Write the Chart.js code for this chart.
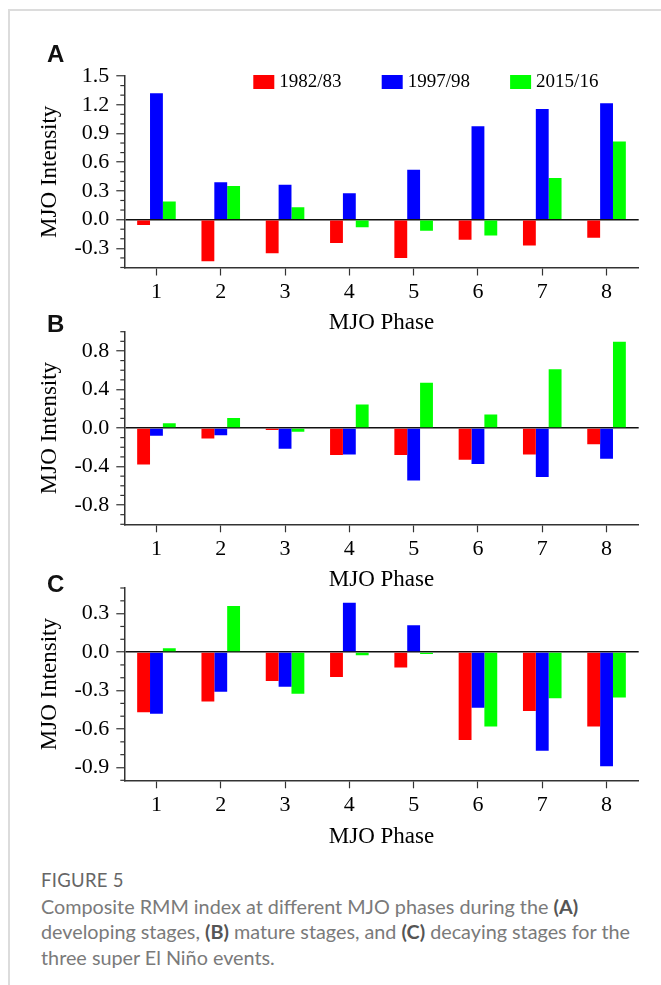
<!DOCTYPE html>
<html>
<head>
<meta charset="utf-8">
<script src="https://cdn.jsdelivr.net/npm/chart.js@4.4.1/dist/chart.umd.min.js"></script>
<style>
  body { margin: 0; background: #fff; }
  #page { position: relative; width: 661px; height: 985px; overflow: hidden; background: #fff; }
  .frame { position: absolute; left: 8px; top: 9px; width: 720px; height: 1000px;
           border-top: 2px solid #dcdcdc; border-left: 2px solid #dcdcdc; }
  canvas { position: absolute; left: 0; }
  .tag { position: absolute; left: 47px; font: bold 24px "Liberation Sans", Arial, sans-serif;
         line-height: 24px; color: #111; }
  .caption { position: absolute; left: 41px; top: 868px; font-family: Lato, "Open Sans", sans-serif;
             color: #7a7a7a; font-size: 19.8px; line-height: 25.6px; white-space: nowrap; }
  .caption .fig { color: #666; font-size: 18.5px; letter-spacing: 0.3px; }
  .caption b { color: #555; font-weight: 700; }
</style>
</head>
<body>
<div id="page">
  <div class="frame"></div>
  <canvas id="chartA" width="661" height="300" style="top:40px"></canvas>
  <canvas id="chartB" width="661" height="300" style="top:300px"></canvas>
  <canvas id="chartC" width="661" height="300" style="top:560px"></canvas>
  <div class="tag" style="top:42px">A</div>
  <div class="tag" style="top:312px">B</div>
  <div class="tag" style="top:572px">C</div>
  <div class="caption">
    <div class="fig">FIGURE 5</div>
    Composite RMM index at different MJO phases during the <b>(A)</b><br>
    developing stages, <b>(B)</b> mature stages, and <b>(C)</b> decaying stages for the<br>
    three super El Niño events.
  </div>
</div>
<script>
// categories and series
const phases = ['1', '2', '3', '4', '5', '6', '7', '8'];
const events = ['1982/83', '1997/98', '2015/16'];

// (A) developing stages
const devel1982 = [-0.055, -0.435, -0.35, -0.245, -0.40, -0.21, -0.27, -0.19];
const devel1997 = [1.32, 0.39, 0.365, 0.275, 0.52, 0.975, 1.155, 1.215];
const devel2015 = [0.19, 0.35, 0.13, -0.08, -0.115, -0.165, 0.435, 0.815];

// (B) mature stages
const mature1982 = [-0.38, -0.11, -0.02, -0.28, -0.28, -0.33, -0.275, -0.17];
const mature1997 = [-0.08, -0.075, -0.215, -0.275, -0.545, -0.375, -0.51, -0.32];
const mature2015 = [0.05, 0.105, -0.04, 0.245, 0.47, 0.14, 0.61, 0.895];

// (C) decaying stages
const decay1982 = [-0.47, -0.385, -0.225, -0.195, -0.12, -0.685, -0.46, -0.58];
const decay1997 = [-0.48, -0.31, -0.27, 0.385, 0.21, -0.435, -0.77, -0.89];
const decay2015 = [0.03, 0.36, -0.325, -0.025, -0.015, -0.58, -0.36, -0.355];

// y tick labels per panel
const ticksA = [-0.3, 0.0, 0.3, 0.6, 0.9, 1.2, 1.5];
const ticksB = [-0.8, -0.4, 0.0, 0.4, 0.8];
const ticksC = [-0.9, -0.6, -0.3, 0.0, 0.3];

const colors = ['#ff0000', '#0000ff', '#00ff00'];
const axisColor = '#333';

Chart.defaults.font.family = '"Liberation Serif", "Times New Roman", serif';
Chart.defaults.color = '#000';
Chart.defaults.animation = false;

// small ticks every 0.1 between the labelled ones
const minorTicks = {
  id: 'minorTicks',
  afterDraw(chart) {
    const y = chart.scales.y;
    const ctx = chart.ctx;
    ctx.save();
    ctx.strokeStyle = axisColor;
    ctx.lineWidth = 1.2;
    for (let k = Math.round(y.min * 10); k <= Math.round(y.max * 10); k++) {
      const v = k / 10;
      if (y.ticks.some(t => Math.abs(t.value - v) < 1e-6)) continue;
      const py = y.getPixelForValue(v);
      ctx.beginPath();
      ctx.moveTo(y.right - 4, py);
      ctx.lineTo(y.right, py);
      ctx.stroke();
    }
    ctx.restore();
  }
};

// legend drawn inside the plot, top row
const insideLegend = {
  id: 'insideLegend',
  afterDraw(chart) {
    const {ctx, chartArea} = chart;
    ctx.save();
    ctx.font = '19px "Liberation Serif"';
    ctx.textBaseline = 'middle';
    ctx.textAlign = 'left';
    chart.data.datasets.forEach((ds, i) => {
      const x = chartArea.left + 129 + i * 128.4;
      ctx.fillStyle = ds.backgroundColor;
      ctx.fillRect(x, chartArea.top - 1, 21, 14);
      ctx.fillStyle = '#000';
      ctx.fillText(ds.label, x + 26, chartArea.top + 6);
    });
    ctx.restore();
  }
};

function makePanel(id, series, yMin, yMax, yTicks, pad, withLegend) {
  const datasets = series.map((vals, i) => ({
    label: events[i],
    data: vals,
    backgroundColor: colors[i],
    borderWidth: 0,
    barPercentage: 1.0,
    categoryPercentage: 0.6
  }));
  return new Chart(document.getElementById(id), {
    type: 'bar',
    data: { labels: phases, datasets },
    options: {
      responsive: false,
      layout: { padding: { left: 0, right: 22.3, top: pad.top, bottom: 0 } },
      plugins: { legend: { display: false }, tooltip: { enabled: false } },
      scales: {
        x: {
          offset: true,
          grid: { offset: false, drawOnChartArea: false, drawTicks: true, tickLength: 8,
                  tickColor: axisColor, tickWidth: 1.2 },
          border: { display: true, color: axisColor, width: 1.5 },
          ticks: { font: { size: 22 }, padding: 3.5, maxRotation: 0 },
          title: { display: true, text: 'MJO Phase', font: { size: 23 },
                   padding: { top: 0, bottom: pad.xTitle } },
          afterFit: s => { s.height = pad.xHeight; }
        },
        y: {
          min: yMin,
          max: yMax,
          afterBuildTicks: s => { s.ticks = yTicks.map(v => ({ value: v })); },
          grid: {
            drawOnChartArea: true, drawTicks: true, tickLength: 8,
            color: c => (c.tick && c.tick.value === 0 ? '#111' : 'rgba(0,0,0,0)'),
            lineWidth: 1.5,
            tickColor: axisColor, tickWidth: 1.2
          },
          border: { display: true, color: axisColor, width: 1.5 },
          ticks: { font: { size: 22 }, padding: 7, autoSkip: false,
                   callback: v => Number(v).toFixed(1) },
          title: { display: true, text: 'MJO Intensity', font: { size: 23 },
                   padding: { top: 36.2, bottom: 0 } },
          afterFit: s => { s.width = 124.3; }
        }
      }
    },
    plugins: withLegend ? [minorTicks, insideLegend] : [minorTicks]
  });
}

makePanel('chartA', [devel1982, devel1997, devel2015], -0.5, 1.5, ticksA,
  { top: 36, xHeight: 72.5, xTitle: 3.2 }, true);
makePanel('chartB', [mature1982, mature1997, mature2015], -1.0, 1.0, ticksB,
  { top: 31.7, xHeight: 75.7, xTitle: 6.2 }, false);
makePanel('chartC', [decay1982, decay1997, decay2015], -1.0, 0.5, ticksC,
  { top: 28, xHeight: 79.7, xTitle: 9.2 }, false);
</script>
</body>
</html>
